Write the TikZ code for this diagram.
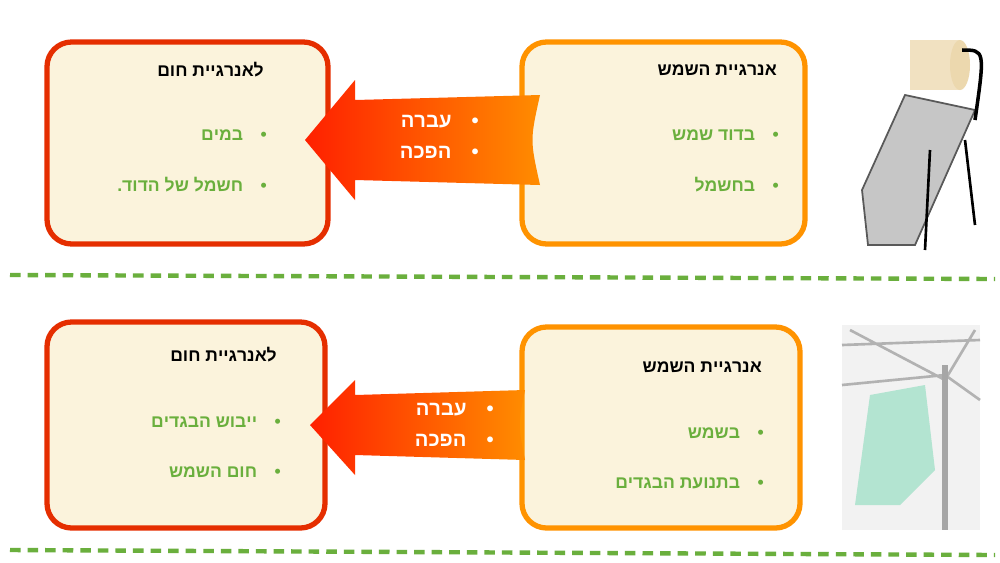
\documentclass[tikz,border=0pt]{standalone}
\usepackage{fontspec}
\setmainfont{Liberation Sans}
\TeXXeTstate=1
\begin{document}
\begin{tikzpicture}[x=0.02cm,y=-0.02cm,
  redbox/.style={draw=red!60!orange!90!black,fill=cream,line width=3pt,rounded corners=14pt},
  orbox/.style={draw=orange!85!yellow,fill=cream,line width=3pt,rounded corners=14pt},
  ttl/.style={font=\fontsize{10}{12}\selectfont\bfseries,anchor=east},
  itm/.style={font=\fontsize{10}{12}\selectfont\bfseries,text=grn,anchor=east},
  arrtxt/.style={font=\fontsize{11.5}{13}\selectfont\bfseries,text=white,anchor=east},
  bigarrow/.style={left color=red!75!orange,right color=orange!90!yellow,draw=none}]
\definecolor{cream}{HTML}{FBF3DC}
\definecolor{grn}{HTML}{6AAF3D}
\useasboundingbox (0,0) rectangle (1000,562);
\fill[white] (0,0) rectangle (1000,562);
% row 1
\draw[redbox] (47,42) rectangle (328,244);
\draw[orbox] (522,42) rectangle (805,244);
\path[bigarrow] (540,95) .. controls (530,140) .. (540,185) -- (355,180) -- (355,200) -- (305,140) -- (355,80) -- (355,100) -- cycle;
\node[ttl] (t1) at (783,70) {\beginR אנרגיית השמש\endR};
\node[itm] (a1) at (785,135) {\beginR •\quad בדוד שמש\endR};
\node[itm] (a2) at (785,185) {\beginR •\quad בחשמל\endR};
\node[ttl] (t2) at (270,70) {\beginR לאנרגיית חום\endR};
\node[itm] (b1) at (273,135) {\beginR •\quad במים\endR};
\node[itm] (b2) at (273,185) {\beginR •\quad חשמל של הדוד.\endR};
\node[arrtxt] (c1) at (485,122) {\beginR •\quad עברה\endR};
\node[arrtxt] (c2) at (485,152) {\beginR •\quad הפכה\endR};
% row 2
\draw[redbox] (47,322) rectangle (325,528);
\draw[orbox] (522,327) rectangle (800,528);
\path[bigarrow] (525,390) .. controls (518,425) .. (525,460) -- (355,455) -- (355,475) -- (310,425) -- (355,380) -- (355,395) -- cycle;
\node[ttl] (t3) at (768,367) {\beginR אנרגיית השמש\endR};
\node[itm] (d1) at (770,433) {\beginR •\quad בשמש\endR};
\node[itm] (d2) at (770,483) {\beginR •\quad בתנועת הבגדים\endR};
\node[ttl] (t4) at (283,355) {\beginR לאנרגיית חום\endR};
\node[itm] (e1) at (287,422) {\beginR •\quad ייבוש הבגדים\endR};
\node[itm] (e2) at (287,472) {\beginR •\quad חום השמש\endR};
\node[arrtxt] (f1) at (500,410) {\beginR •\quad עברה\endR};
\node[arrtxt] (f2) at (500,440) {\beginR •\quad הפכה\endR};
% dashed lines
\draw[grn,line width=2.5pt,dash pattern=on 6pt off 4pt] (10,275) -- (995,279);
\draw[grn,line width=2.5pt,dash pattern=on 6pt off 4pt] (10,550) -- (995,555);
% solar heater picture
\fill[gray!45] (862,190) -- (905,95) -- (975,110) -- (915,245) -- (868,245) -- cycle;
\draw[gray!70!black,line width=1pt] (862,190) -- (905,95) -- (975,110) -- (915,245) -- (868,245) -- cycle;
\draw[black,line width=1.5pt] (930,150) -- (925,250) (965,140) -- (975,225);
\fill[yellow!20!brown!30] (910,40) rectangle (960,90);
\fill[yellow!20!brown!40] (960,65) ellipse (10 and 25);
\draw[black,line width=2pt] (962,50) .. controls (985,50) .. (975,120);
% drying rack picture
\fill[gray!10] (842,325) rectangle (980,530);
\draw[gray!60,line width=1.5pt] (842,345) -- (980,340) (842,385) -- (945,375) -- (980,400) (850,330) -- (945,380) -- (975,330);
\draw[gray!70,line width=3pt] (945,365) -- (945,530);
\fill[cyan!40!green!30] (870,395) -- (925,385) -- (935,470) -- (900,505) -- (855,505) -- cycle;
\end{tikzpicture}
\end{document}
